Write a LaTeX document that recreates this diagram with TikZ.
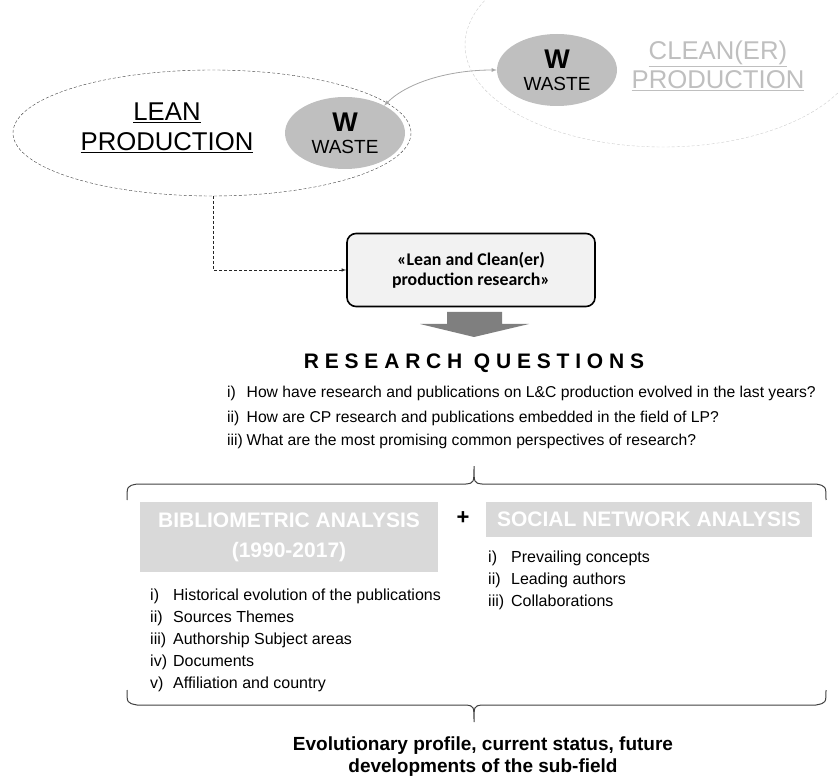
\documentclass[tikz,border=0pt]{standalone}
\usepackage{fontspec}
\setmainfont{Liberation Sans}
\newfontfamily\calfont{Carlito}
\usetikzlibrary{shapes.geometric}

\definecolor{wastegray}{HTML}{BFBFBF}
\definecolor{titlegray}{HTML}{D9D9D9}
\definecolor{arrowgray}{HTML}{7F7F7F}
\definecolor{linkgray}{HTML}{A6A6A6}
\definecolor{bracegray}{HTML}{404040}

\tikzset{
  waste/.style={ellipse,fill=wastegray,minimum width=120pt,minimum height=72pt,inner sep=0pt,align=center,
    font=\fontsize{19}{22}\selectfont},
  prodtext/.style={align=center,inner sep=0pt,font=\fontsize{25.7}{29.5}\selectfont},
  titlebox/.style={fill=titlegray,text=white,align=center,inner sep=0pt,font=\bfseries\fontsize{21}{30}\selectfont},
  qitem/.style={anchor=west,inner sep=0pt,font=\fontsize{15.7}{18}\selectfont},
  litem/.style={anchor=west,inner sep=0pt,font=\fontsize{16}{18}\selectfont},
  bracepath/.style={draw=bracegray,line width=1pt},
}
\newcommand{\wastetext}{{\fontsize{27}{27}\selectfont\bfseries W}\\WASTE}

\begin{document}
\begin{tikzpicture}[x=1pt,y=-1pt]
\useasboundingbox (0,0) rectangle (839,778);

% clean(er) production
\begin{scope}
\clip (0,0) rectangle (839,778);
\draw[wastegray!80,dash pattern=on 3pt off 2pt] (663,45) ellipse [x radius=198, y radius=102];
\end{scope}
\node[prodtext,text=wastegray] (clean) at (718,66) {\underline{CLEAN(ER)}\\\underline{PRODUCTION}};
\node[waste] (wasteR) at (557,70) {\wastetext};

% lean production
\draw[black!75,dash pattern=on 3pt off 2pt] (212,133) ellipse [x radius=199, y radius=63];
\coordinate (leanbot) at (213,196);
\node[prodtext] (lean) at (167,128) {\underline{LEAN}\\\underline{PRODUCTION}};
\node[waste] (wasteL) at (345,133) {\wastetext};

\draw[linkgray,line width=0.8pt,latex-latex] (wasteL.35) .. controls (408,82) and (450,70) .. (wasteR.west);

% research box
\node[draw,line width=1.6pt,rounded corners=9pt,fill=black!5,minimum width=248pt,minimum height=73pt,align=center,
  font=\calfont\bfseries\fontsize{17.8}{20}\selectfont] (box) at (471,270) {«Lean and Clean(er)\\production research»};
\draw[black!85,dash pattern=on 3pt off 2pt,-latex,line width=0.6pt] (leanbot) |- (box.west);

\fill[arrowgray] (447,312) -- (502,312) -- (502,324) -- (529,324) -- (474,337) -- (420,324) -- (447,324) -- cycle;

% questions
\node[font=\bfseries\fontsize{21}{24}\selectfont\addfontfeature{LetterSpace=27.6}] (rq) at (474,363) {RESEARCH QUESTIONS};
\node[qitem] (q1) at (227,393) {\makebox[19.5pt][l]{i)}How have research and publications on L\&C production evolved in the last years?};
\node[qitem] (q2) at (227,418) {\makebox[19.5pt][l]{ii)}How are CP research and publications embedded in the field of LP?};
\node[qitem] (q3) at (227,441) {\makebox[19.5pt][l]{iii)}What are the most promising common perspectives of research?};

\draw[bracepath] (127,500) .. controls (127,486) .. (137,484) -- (466,484) .. controls (474,483) .. (474,466)
  .. controls (474,483) .. (482,484) -- (816,484) .. controls (826,486) .. (826,500);

% methods
\node[titlebox,minimum width=298pt,minimum height=70pt] (biblio) at (289,537) {BIBLIOMETRIC ANALYSIS\\(1990-2017)};
\node[font=\bfseries\fontsize{22}{22}\selectfont] (plus) at (463,518) {+};
\node[titlebox,minimum width=326pt,minimum height=35pt] (sna) at (649,519.5) {SOCIAL NETWORK ANALYSIS};

\node[litem] (b1) at (150,596) {\makebox[23pt][l]{i)}Historical evolution of the publications};
\node[litem] (b2) at (150,618) {\makebox[23pt][l]{ii)}Sources Themes};
\node[litem] (b3) at (150,640) {\makebox[23pt][l]{iii)}Authorship Subject areas};
\node[litem] (b4) at (150,662) {\makebox[23pt][l]{iv)}Documents};
\node[litem] (b5) at (150,684) {\makebox[23pt][l]{v)}Affiliation and country};

\node[litem] (s1) at (488,558) {\makebox[23pt][l]{i)}Prevailing concepts};
\node[litem] (s2) at (488,580) {\makebox[23pt][l]{ii)}Leading authors};
\node[litem] (s3) at (488,602) {\makebox[23pt][l]{iii)}Collaborations};

\draw[bracepath] (127,690) .. controls (127,703) .. (137,705) -- (466,705) .. controls (474,706) .. (474,722)
  .. controls (474,706) .. (482,705) -- (816,705) .. controls (826,703) .. (826,690);

% outcome
\node[align=center,font=\bfseries\fontsize{19}{22}\selectfont] (outcome) at (483,757) {Evolutionary profile, current status, future\\developments of the sub-field};
\end{tikzpicture}
\end{document}
